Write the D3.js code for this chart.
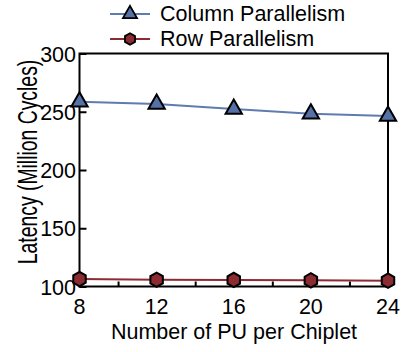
<!DOCTYPE html>
<html><head><meta charset="utf-8">
<script src="https://cdn.jsdelivr.net/npm/d3@7/dist/d3.min.js"></script>
<style>body{margin:0;background:#fff}svg{display:block}text{font-family:"Liberation Sans",Arial,sans-serif}</style>
</head><body>
<script>
const pus = [8, 12, 16, 20, 24];
const columnParallelism = [258.6, 256.7, 252.4, 248.3, 246.4];
const rowParallelism = [106.4, 105.8, 105.6, 105.3, 105.0];
const yTicks = [100, 150, 200, 250, 300];
const xMinorTicks = [10, 14, 18, 22];
const seriesNames = ["Column Parallelism", "Row Parallelism"];

const W = 413, H = 352;
const m = {left: 79.5, right: 25, top: 53.5, bottom: 65.5};
const svg = d3.select("body").append("svg").attr("width", W).attr("height", H);
const x = d3.scaleLinear().domain([8, 24]).range([m.left, W - m.right]);
const y = d3.scaleLinear().domain([100, 300]).range([H - m.bottom, m.top]);

const blue = "#5571a8", blueLine = "#5f7bb0", red = "#8c2b31";
const FS = 21.5;

// frame
svg.append("rect").attr("x", x(8)).attr("y", y(300)).attr("width", x(24) - x(8)).attr("height", y(100) - y(300))
  .attr("fill", "none").attr("stroke", "#000").attr("stroke-width", 2);

// y axis
const yAx = svg.append("g").attr("transform", `translate(${x(8)},0)`)
  .call(d3.axisRight(y).tickValues(yTicks).tickSize(7).tickFormat(""));
yAx.select(".domain").remove();
yAx.selectAll("line").attr("stroke", "#000").attr("stroke-width", 2);
svg.append("g").selectAll("text").data(yTicks).join("text")
  .attr("x", x(8) - 3.5).attr("y", d => y(d) + 8).attr("text-anchor", "end")
  .attr("font-size", FS).text(d => d);

// x axis
const xAx = svg.append("g").attr("transform", `translate(0,${y(100)})`)
  .call(d3.axisTop(x).tickValues(pus).tickSize(7).tickFormat(""));
xAx.select(".domain").remove();
xAx.selectAll("line").attr("stroke", "#000").attr("stroke-width", 2);
const xMin = svg.append("g").attr("transform", `translate(0,${y(100)})`)
  .call(d3.axisTop(x).tickValues(xMinorTicks).tickSize(5).tickFormat(""));
xMin.select(".domain").remove();
xMin.selectAll("line").attr("stroke", "#000").attr("stroke-width", 2);
svg.append("g").selectAll("text").data(pus).join("text")
  .attr("x", d => x(d)).attr("y", y(100) + 27).attr("text-anchor", "middle")
  .attr("font-size", FS).text(d => d);

svg.append("text").attr("x", 234).attr("y", 339).attr("text-anchor", "middle")
  .attr("font-size", FS).text("Number of PU per Chiplet");
svg.append("text").attr("transform", `translate(37,162) rotate(-90) scale(0.68,1)`)
  .attr("text-anchor", "middle").attr("font-size", 28.5)
  .text("Latency (Million Cycles)");

const hex = (r) => {
  const p = d3.path();
  for (let i = 0; i < 6; i++) {
    const a = Math.PI / 3 * i + Math.PI / 6;
    const px = r * Math.cos(a), py = r * Math.sin(a);
    i ? p.lineTo(px, py) : p.moveTo(px, py);
  }
  p.closePath();
  return p.toString();
};

const line = d3.line().x((d, i) => x(pus[i])).y(d => y(d));
function drawSeries(vals, col, lcol, marker) {
  svg.append("path").datum(vals).attr("d", line).attr("fill", "none").attr("stroke", lcol).attr("stroke-width", 2);
  svg.append("g").selectAll("path").data(vals).join("path")
    .attr("transform", (d, i) => `translate(${x(pus[i])},${y(d)})`)
    .attr("d", marker === "tri" ? d3.symbol().type(d3.symbolTriangle).size(115)() : hex(7.2))
    .attr("fill", col).attr("stroke", "#000").attr("stroke-width", 2);
}
drawSeries(columnParallelism, blue, blueLine, "tri");
drawSeries(rowParallelism, red, red, "hex");

// legend
const leg = [{n: seriesNames[0], c: blue, l: blueLine, m: "tri", y: 14}, {n: seriesNames[1], c: red, l: red, m: "hex", y: 39}];
leg.forEach(e => {
  svg.append("line").attr("x1", 110).attr("x2", 150).attr("y1", e.y).attr("y2", e.y).attr("stroke", e.l).attr("stroke-width", 2);
  svg.append("path").attr("transform", `translate(130,${e.y})`)
    .attr("d", e.m === "tri" ? d3.symbol().type(d3.symbolTriangle).size(85)() : hex(5.8))
    .attr("fill", e.c).attr("stroke", "#000").attr("stroke-width", 1.8);
  svg.append("text").attr("x", 160).attr("y", e.y + 7).attr("font-size", FS).text(e.n);
});
</script>
</body></html>
